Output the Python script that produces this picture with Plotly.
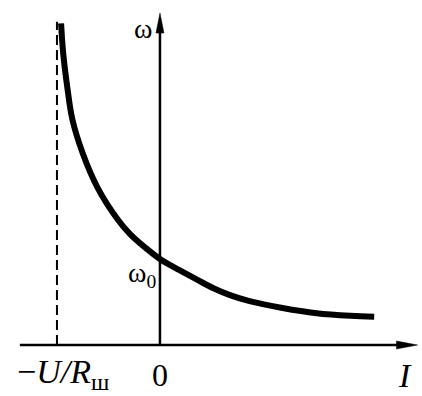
import plotly.graph_objects as go

# ---- data ----
current_I = [-0.96, -0.94, -0.90, -0.85, -0.75, -0.61, -0.41, -0.29, -0.15,
             0.00, 0.19, 0.36, 0.52, 0.68, 0.87, 1.19, 1.52, 1.85, 2.08]
omega = [3.74, 3.40, 3.00, 2.62, 2.23, 1.84, 1.46, 1.29, 1.14,
         1.00, 0.87, 0.76, 0.66, 0.58, 0.51, 0.43, 0.37, 0.34, 0.33]
I_asymptote = -1.0           # -U/R_ш
omega0 = 1.0

W, H = 422, 396
x_range = [-1.553, 2.544]
y_range = [-0.593, 4.012]
sx = W / (x_range[1] - x_range[0])   # px per data unit
sy = H / (y_range[1] - y_range[0])

x_axis_start, x_axis_tip = -1.36, 2.50
y_axis_tip = 3.86
dash_top = 3.76

FONT = "Liberation Serif"
fig = go.Figure()

fig.add_trace(go.Scatter(x=current_I, y=omega, mode="lines",
                         line=dict(color="black", width=6, shape="spline", smoothing=1.0),
                         hoverinfo="skip", showlegend=False))

shapes = []
# axes lines
shapes.append(dict(type="line", x0=x_axis_start, y0=0, x1=x_axis_tip - 15 / sx, y1=0,
                   line=dict(color="black", width=2.5)))
shapes.append(dict(type="line", x0=0, y0=0, x1=0, y1=y_axis_tip - 15 / sy,
                   line=dict(color="black", width=2.5)))
# arrow heads
hl, hw = 21, 4
shapes.append(dict(type="path",
                   path=f"M{x_axis_tip},0 L{x_axis_tip - hl / sx},{hw / sy} L{x_axis_tip - hl / sx},{-hw / sy} Z",
                   fillcolor="black", line=dict(color="black", width=0.5)))
shapes.append(dict(type="path",
                   path=f"M0,{y_axis_tip} L{hw / sx},{y_axis_tip - 20 / sy} L{-hw / sx},{y_axis_tip - 20 / sy} Z",
                   fillcolor="black", line=dict(color="black", width=0.5)))
# asymptote
shapes.append(dict(type="line", x0=I_asymptote, y0=0, x1=I_asymptote, y1=dash_top,
                   line=dict(color="black", width=2, dash="10px,5px")))

annotations = [
    dict(x=0, y=y_axis_tip, text="ω", showarrow=False, xanchor="right", yanchor="top",
         xshift=-6, yshift=2, font=dict(family=FONT, size=28, color="black")),
    dict(x=0, y=omega0, text="ω<sub>0</sub>", showarrow=False, xanchor="right", yanchor="top",
         xshift=-2, yshift=4, font=dict(family=FONT, size=28, color="black")),
    dict(x=0, y=0, text="0", showarrow=False, xanchor="center", yanchor="top",
         yshift=-10, font=dict(family=FONT, size=32, color="black")),
    dict(x=x_axis_tip, y=0, text="<i>I</i>", showarrow=False, xanchor="right", yanchor="top",
         xshift=-3, yshift=-10, font=dict(family=FONT, size=34, color="black")),
    dict(x=I_asymptote, y=0, text="−<i>U/R</i><sub>ш</sub>", showarrow=False,
         xanchor="center", yanchor="top", xshift=6, yshift=-6,
         font=dict(family=FONT, size=34, color="black")),
]

fig.update_layout(
    width=W, height=H, margin=dict(l=0, r=0, t=0, b=0),
    paper_bgcolor="white", plot_bgcolor="white",
    xaxis=dict(range=x_range, visible=False, fixedrange=True),
    yaxis=dict(range=y_range, visible=False, fixedrange=True),
    shapes=shapes, annotations=annotations, showlegend=False,
)
fig.write_html("out.html", config={"displayModeBar": False},
               post_script="document.body.style.margin='0';document.body.style.overflow='hidden';")
